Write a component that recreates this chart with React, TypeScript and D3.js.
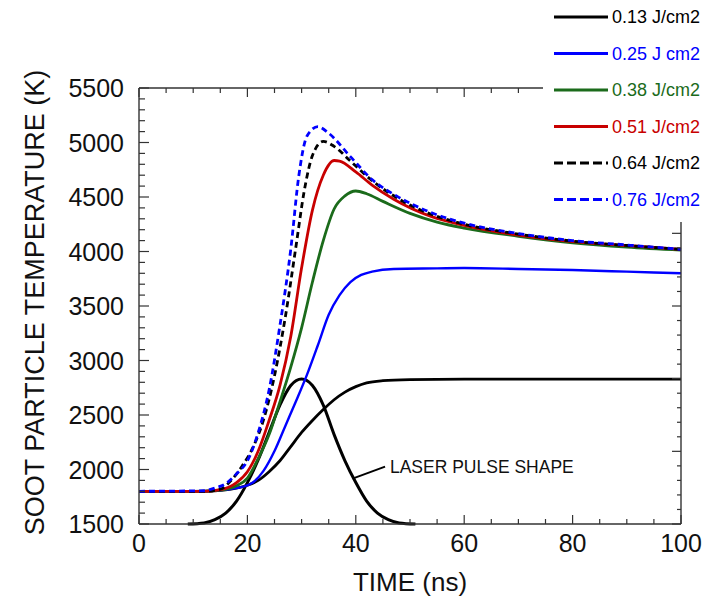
import * as d3 from 'd3'

// time (ns) and temperature (K)
const t013 = [0, 10, 14, 17, 20, 22, 24, 26, 28, 30, 32, 34, 36, 38, 40, 42, 45, 50, 60, 80, 100]
const T013 = [1800, 1800, 1805, 1820, 1855, 1900, 1980, 2080, 2210, 2340, 2450, 2550, 2640, 2710, 2760, 2795, 2815, 2825, 2830, 2830, 2830]

const t025 = [0, 12, 16, 19, 21, 23, 25, 27, 29, 31, 33, 35, 37, 39, 41, 43, 47, 55, 60, 70, 80, 90, 100]
const T025 = [1800, 1800, 1815, 1840, 1880, 1990, 2170, 2400, 2630, 2870, 3140, 3420, 3600, 3720, 3785, 3815, 3840, 3845, 3848, 3840, 3830, 3815, 3800]

const t038 = [0, 12, 15, 18, 20, 22, 24, 26, 28, 30, 32, 34, 36, 38, 40, 42, 45, 50, 55, 60, 70, 80, 90, 100]
const T038 = [1800, 1800, 1810, 1850, 1920, 2100, 2320, 2620, 2940, 3300, 3720, 4100, 4390, 4510, 4555, 4530, 4460, 4350, 4270, 4215, 4140, 4080, 4040, 4012]

const t051 = [0, 12, 15, 18, 20, 22, 24, 26, 28, 30, 32, 34, 36, 37, 40, 43, 47, 54, 60, 70, 80, 90, 100]
const T051 = [1800, 1800, 1815, 1880, 1980, 2170, 2450, 2770, 3220, 3850, 4380, 4700, 4835, 4830, 4730, 4610, 4480, 4320, 4240, 4150, 4090, 4055, 4020]

const t064 = [0, 12, 15, 17, 19, 21, 23, 25, 27, 29, 30.5, 32, 34, 36, 39, 43, 47.5, 54, 60, 70, 80, 90, 100]
const T064 = [1800, 1800, 1820, 1900, 2030, 2200, 2460, 2860, 3400, 4060, 4560, 4880, 5010, 4965, 4830, 4650, 4495, 4340, 4250, 4160, 4095, 4055, 4020]

const t076 = [0, 12, 14, 16, 18, 20, 22, 24, 26, 28, 29.5, 31, 33, 35, 39, 43, 47.5, 54, 60, 70, 80, 90, 100]
const T076 = [1800, 1805, 1830, 1870, 1960, 2080, 2340, 2730, 3320, 4020, 4700, 5060, 5145, 5085, 4870, 4660, 4510, 4355, 4260, 4165, 4100, 4060, 4020]

// laser pulse shape, drawn on the temperature scale
const tPulse = [9, 12, 14, 16, 18, 20, 22, 24, 26, 28, 30, 32, 34, 36, 38, 40, 42, 44, 46, 48, 51]
const TPulse = [1500, 1510, 1540, 1600, 1710, 1880, 2090, 2340, 2590, 2770, 2830, 2770, 2590, 2320, 2080, 1880, 1710, 1600, 1540, 1510, 1500]

const fluences = ['0.13 J/cm2', '0.25 J cm2', '0.38 J/cm2', '0.51 J/cm2', '0.64 J/cm2', '0.76 J/cm2']
const colors = ['#000000', '#0000ff', '#1b6b1b', '#c80000', '#000000', '#0000ff']
const dashed = [false, false, false, false, true, true]
const times = [t013, t025, t038, t051, t064, t076]
const temps = [T013, T025, T038, T051, T064, T076]

const xTicks = [0, 20, 40, 60, 80, 100]
const yTicks = [1500, 2000, 2500, 3000, 3500, 4000, 4500, 5000, 5500]

// annotation anchor points in data units
const pulseLabel = { x: 46.3, y: 1965, text: 'LASER PULSE SHAPE' }
const pulseLeader = [[39.4, 1916], [45.4, 2026]]

const W = 715
const H = 603
const FONT = '"Liberation Sans", Arial, Helvetica, sans-serif'

export default function App() {
  const x = d3.scaleLinear().domain([0, 100]).range([139, 681])
  const y = d3.scaleLinear().domain([1500, 5500]).range([524, 88])
  const yRight = d3.scaleLinear().domain([0, 6]).range([524, 88])

  const line = d3.line<[number, number]>()
    .x((d) => x(d[0]))
    .y((d) => y(d[1]))
    .curve(d3.curveMonotoneX)

  const [x0, x1] = x.range()
  const [yb, yt] = y.range()

  const minorX = d3.range(0, 101, 5)
  const minorY = d3.range(1500, 5501, 100)
  const minorR = d3.range(0, 31).map((i) => i * 0.2)

  const legendTop = 17
  const legendStep = 36.5

  return (
    <svg width={W} height={H} style={{ position: 'absolute', left: 0, top: 0, background: '#fff' }}
      fontFamily={FONT}>
      <rect width={W} height={H} fill="#fff" />

      {/* curves */}
      <path d={line(tPulse.map((t, i) => [t, TPulse[i]]) as any) || ''} fill="none" stroke="#000" strokeWidth={3} />
      {times.map((ts, k) => (
        <path key={k}
          d={line(ts.map((t, i) => [t, temps[k][i]]) as any) || ''}
          fill="none"
          stroke={colors[k]}
          strokeWidth={k === 1 ? 2.4 : 2.8}
          strokeDasharray={dashed[k] ? '6,4' : undefined} />
      ))}

      {/* frame */}
      <g stroke="#333" strokeWidth={1.4} fill="none">
        <line x1={x0} x2={x1} y1={yb} y2={yb} />
        <line x1={x0} x2={x1} y1={yt} y2={yt} />
        <line x1={x0} x2={x0} y1={yb} y2={yt} />
        <line x1={x1} x2={x1} y1={yb} y2={yt} />
      </g>
      <g stroke="#333" strokeWidth={1.2}>
        {minorX.map((v) => {
          const len = v % 20 === 0 ? 9 : 5
          return (
            <g key={'x' + v}>
              <line x1={x(v)} x2={x(v)} y1={yb} y2={yb - len} />
              <line x1={x(v)} x2={x(v)} y1={yt} y2={yt + len} />
            </g>
          )
        })}
        {minorY.map((v) => (
          <line key={'y' + v} x1={x0} x2={x0 + (v % 500 === 0 ? 10 : 6)} y1={y(v)} y2={y(v)} />
        ))}
        {minorR.map((v, i) => (
          <line key={'r' + i} x1={x1} x2={x1 - (i % 5 === 0 ? 9 : 4)} y1={yRight(v)} y2={yRight(v)} />
        ))}
      </g>

      {/* tick labels */}
      <g fontSize={25} fill="#111">
        {yTicks.map((v) => (
          <text key={v} x={124} y={y(v)} dy="0.36em" textAnchor="end">{v}</text>
        ))}
        {xTicks.map((v) => (
          <text key={v} x={x(v)} y={552} textAnchor="middle">{v}</text>
        ))}
      </g>

      {/* axis titles */}
      <text transform="translate(43.5, 302.5) rotate(-90)" textAnchor="middle" fontSize={27} fill="#111">
        SOOT PARTICLE TEMPERATURE (K)
      </text>
      <text x={(x0 + x1) / 2} y={591} textAnchor="middle" fontSize={26} fill="#111">TIME (ns)</text>

      {/* annotation */}
      <line x1={x(pulseLeader[0][0])} y1={y(pulseLeader[0][1])} x2={x(pulseLeader[1][0])} y2={y(pulseLeader[1][1])}
        stroke="#000" strokeWidth={2} />
      <text x={x(pulseLabel.x)} y={y(pulseLabel.y)} fontSize={17.5} fill="#111">{pulseLabel.text}</text>

      {/* legend */}
      <rect x={543} y={0} width={W - 543} height={222} fill="#fff" />
      {fluences.map((f, k) => {
        const ly = legendTop + k * legendStep
        return (
          <g key={f}>
            <line x1={554} x2={608} y1={ly} y2={ly} stroke={colors[k]} strokeWidth={3}
              strokeDasharray={dashed[k] ? '9,4' : undefined} />
            <text x={612} y={ly} dy="0.36em" fontSize={18} fill={colors[k]}>{f}</text>
          </g>
        )
      })}
    </svg>
  )
}
